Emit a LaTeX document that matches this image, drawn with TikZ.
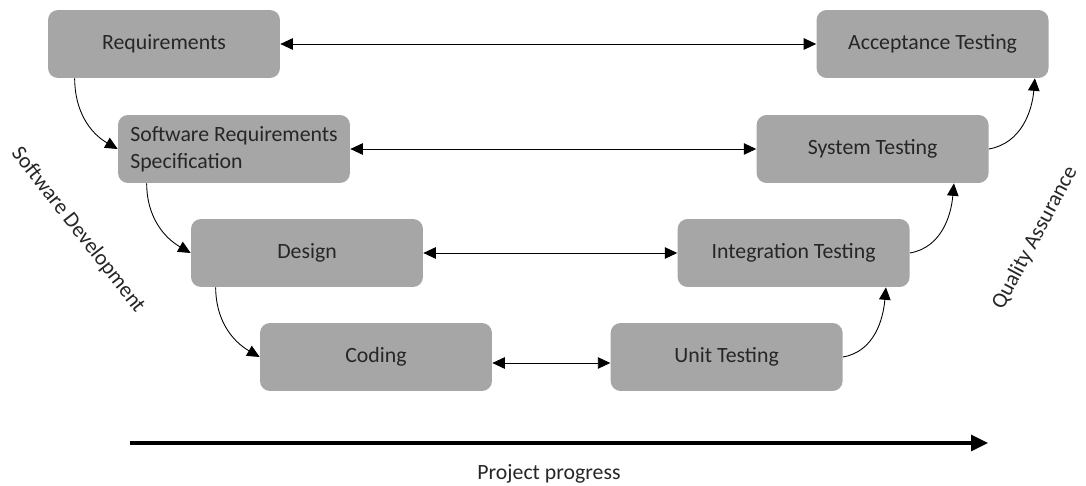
\documentclass[tikz,border=0pt]{standalone}
\usepackage{fontspec}
\setmainfont{Carlito}
\usepackage{xcolor}
\usepackage{tikz}
\usetikzlibrary{arrows.meta, positioning}
\definecolor{stagegray}{RGB}{166,166,166}
\definecolor{inkgray}{RGB}{38,38,38}
\tikzset{
    stage/.style={rectangle, rounded corners=0.2cm, fill=stagegray, text=inkgray, minimum width=4.64cm, minimum height=1.36cm},
    link/.style={{Triangle[length=2.5mm,width=2.3mm]}-{Triangle[length=2.5mm,width=2.3mm]}, line width=0.5pt},
    flow/.style={-{Triangle[length=2.5mm,width=2.3mm]}, line width=0.5pt},
    progress/.style={-{Triangle[length=3.4mm,width=3.2mm]}, line width=1.8pt},
    side/.style={text=inkgray}
}

\begin{document}
\begin{tikzpicture}[x=0.02cm, y=-0.02cm, font=\fontsize{12.4}{15.5}\selectfont]
    \useasboundingbox (0,0) rectangle (1086,486);
    % development side
    \node (req) [stage] at (164,44) {Requirements};
    \node (srs) [stage, align=left] at (234,149) {Software Requirements\\Specification};
    \node (des) [stage] at (307,253) {Design};
    \node (cod) [stage] at (376,357) {Coding};
    % testing side
    \node (acc) [stage, right=10.72cm of req] {Acceptance Testing};
    \node (sys) [stage, right=8.12cm of srs] {System Testing};
    \node (int) [stage, right=5.08cm of des] {Integration Testing};
    \node (unit) [stage, right=2.36cm of cod] {Unit Testing};

    \node (dev) [side, rotate=-52] at (78,230) {Software Development};
    \node (qa) [side, rotate=62] at (1035,238) {Quality Assurance};

    \coordinate (pstart) at (130,443);
    \coordinate (pend) at (988,443);
    \node (prog) [side] at (549,474) {Project progress};

    % levels
    \draw[link] (req) -- (acc);
    \draw[link] (srs) -- (sys);
    \draw[link] (des) -- (int);
    \draw[link] ([yshift=-0.12cm]cod.east) -- ([yshift=-0.12cm]unit.west);

    % down the left arm
    \draw[flow] ([xshift=0.54cm]req.south west) to[out=-90, in=150] (srs.west);
    \draw[flow] ([xshift=0.58cm]srs.south west) to[out=-90, in=150] (des.west);
    \draw[flow] ([xshift=0.5cm]des.south west) to[out=-90, in=150] (cod.west);

    % up the right arm
    \draw[flow] (unit.east) to[out=10, in=-95] ([xshift=-0.48cm]int.south east);
    \draw[flow] (int.east) to[out=10, in=-95] ([xshift=-0.7cm]sys.south east);
    \draw[flow] (sys.east) to[out=10, in=-95] ([xshift=-0.28cm]acc.south east);

    \draw[progress] (pstart) -- (pend);
\end{tikzpicture}
\end{document}
